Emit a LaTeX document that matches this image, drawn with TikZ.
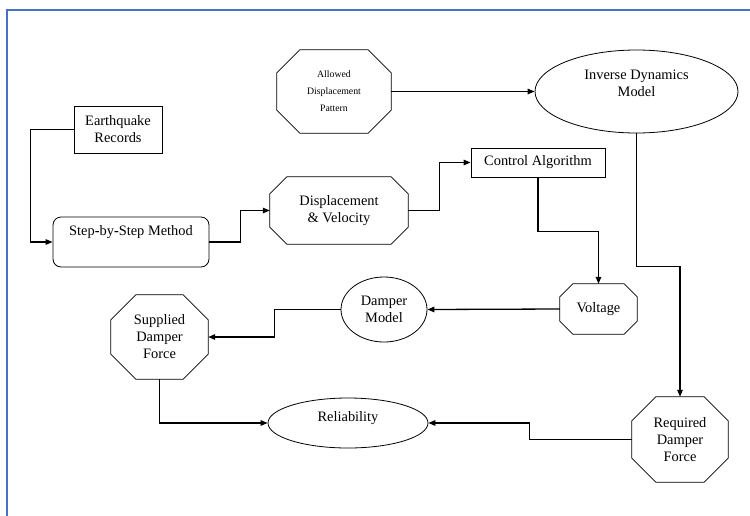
\documentclass[tikz,border=0pt]{standalone}
\usepackage{fontspec}
\setmainfont{Liberation Serif}
\usetikzlibrary{arrows.meta,shapes.geometric}
\definecolor{framecol}{RGB}{68,114,196}
\newcommand\octopath[2]{%
  \draw[shapeline] ([xshift=#2pt]#1.north west) -- ([xshift=-#2pt]#1.north east)
    -- ([yshift=-#2pt]#1.north east) -- ([yshift=#2pt]#1.south east)
    -- ([xshift=-#2pt]#1.south east) -- ([xshift=#2pt]#1.south west)
    -- ([yshift=#2pt]#1.south west) -- ([yshift=-#2pt]#1.north west) -- cycle;}
\begin{document}
\begin{tikzpicture}[x=1pt,y=-1pt,
  shapeline/.style={draw=black,line width=0.8pt},
  txt/.style={font=\fontsize{14.4}{17}\selectfont,align=center,inner sep=0pt},
  boxnode/.style={txt,shapeline,rectangle},
  ellnode/.style={txt,shapeline,ellipse,inner sep=0pt},
  octnode/.style={txt,rectangle},
  arr/.style={line width=1.3pt,-{Triangle[length=7pt,width=5.5pt]}},
  plain/.style={line width=1.3pt}]
\useasboundingbox (0,0) rectangle (750,515);
\fill[white] (0,0) rectangle (750,515);
\draw[framecol,line width=2pt] (7,520) -- (7,10) -- (755,10);

% nodes
\node[boxnode,minimum width=88pt,minimum height=47pt] (eq) at (118,129.5) {Earthquake\\Records};
\node[shapeline,rectangle,rounded corners=8pt,minimum width=156pt,minimum height=50pt] (step) at (131,242) {};
\node[txt] (steptext) at (131,232) {Step\textbf{-}by\textbf{-}Step Method};
\node[octnode,minimum width=138pt,minimum height=67pt] (disp) at (339,210.5) {Displacement\\\& Velocity};
\octopath{disp}{17}
\node[boxnode,minimum width=134pt,minimum height=29pt] (ctrl) at (538,162.5) {Control Algorithm};
\node[octnode,minimum width=114pt,minimum height=83pt,font=\fontsize{9.8}{17}\selectfont] (allow) at (334,91.5) {Allowed\\Displacement\\Pattern};
\octopath{allow}{23}
\node[ellnode,minimum width=203pt,minimum height=83pt] (inv) at (636.5,91.5) {};
\node[txt] (invtext) at (636.5,83) {Inverse Dynamics\\Model};
\node[octnode,minimum width=77pt,minimum height=50pt] (volt) at (598.5,309) {Voltage};
\octopath{volt}{13}
\node[ellnode,minimum width=86pt,minimum height=65pt] (damp) at (384,309.5) {Damper\\Model};
\node[octnode,minimum width=97pt,minimum height=84pt] (sup) at (159.5,337) {Supplied\\Damper\\Force};
\octopath{sup}{25}
\node[ellnode,minimum width=160pt,minimum height=50pt] (rel) at (348,423) {};
\node[txt] (reltext) at (348,418) {Reliability};
\node[octnode,minimum width=96pt,minimum height=85pt] (req) at (680,439.5) {Required\\Damper\\Force};
\octopath{req}{24}

% connectors
\draw[arr] (eq.west) -- ++(-43,0) |- (step.west);
\draw[arr] (step.east) -- ++(31,0) |- (disp.west);
\draw[arr] (disp.east) -- ++(31,0) |- (ctrl.west);
\draw[arr] (ctrl.south) -- ++(0,54) -| (volt.north);
\draw[arr] (volt.west) -- (damp.east);
\draw[arr] (damp.west) -- ++(-66,0) |- (sup.east);
\draw[arr] (sup.south) |- (rel.west);
\draw[arr] (req.west) -- ++(-102,0) |- (rel.east);
\draw[arr] (inv.south) -- ++(0,133) -| (req.north);
\draw[arr] (allow.east) -- (inv.west);
\end{tikzpicture}
\end{document}
